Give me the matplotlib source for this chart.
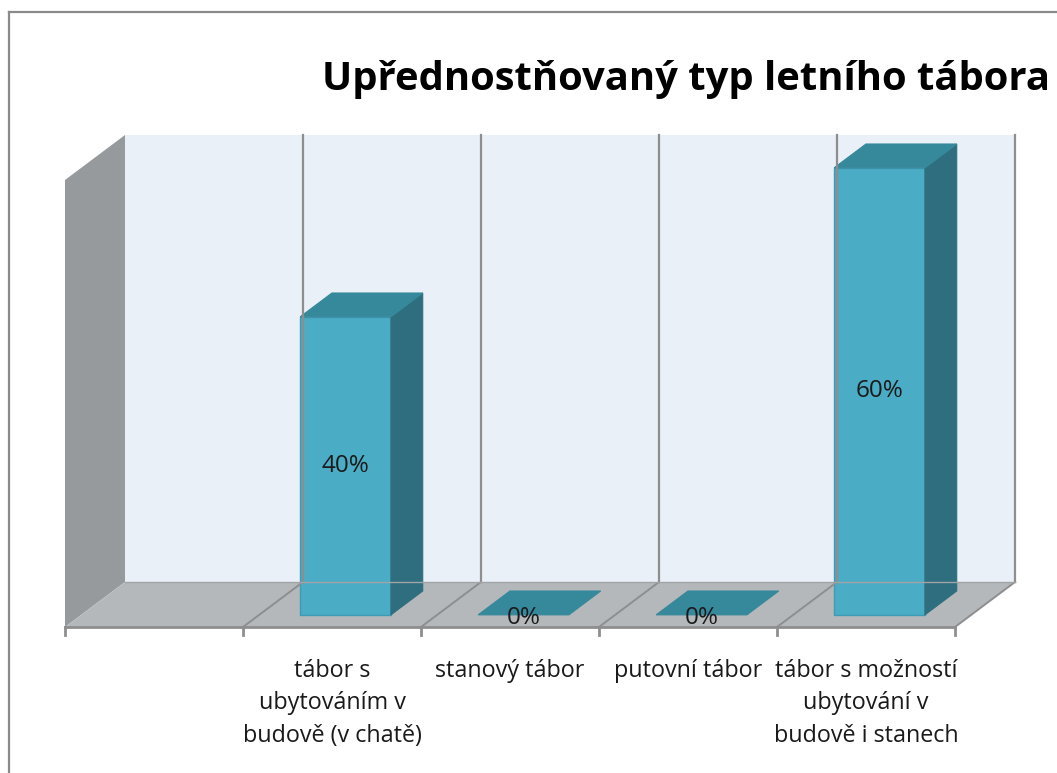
import matplotlib.pyplot as plt
from matplotlib.patches import Polygon

# ---- data ----
categories = ["",
              "tábor s\nubytováním v\nbudově (v chatě)",
              "stanový tábor",
              "putovní tábor",
              "tábor s možností\nubytování v\nbudově i stanech"]
values = [None, 0.40, 0.0, 0.0, 0.60]
value_labels = [None, "40%", "0%", "0%", "60%"]
title = "Upřednostňovaný typ letního tábora"
ymax = 0.6

W, H = 1057, 773
FONT = ["Open Sans", "DejaVu Sans"]

# pixel geometry of the fake 3D box
PX0, PX_CAT = 65, 178      # left front corner, px per category
PY0, PY_UNIT = 627, 745    # front floor edge, px per 1.0 value
DX = 60 / PX_CAT           # depth offset (in category units)
DY = 45 / PY_UNIT          # depth offset (in value units)

fig = plt.figure(figsize=(W / 100, H / 100), dpi=100)
ax = fig.add_axes([0, 0, 1, 1])
ax.set_xlim(-PX0 / PX_CAT, (W - PX0) / PX_CAT)
ax.set_ylim((PY0 - H) / PY_UNIT, PY0 / PY_UNIT)
ax.axis("off")

n = len(categories)
grid_c = "#8e8e8e"

# walls and floor
ax.add_patch(Polygon([(0, 0), (DX, DY), (DX, DY + ymax), (0, ymax)],
                     closed=True, fc="#969a9d", ec="none"))
ax.add_patch(Polygon([(DX, DY), (n + DX, DY), (n + DX, DY + ymax), (DX, DY + ymax)],
                     closed=True, fc="#eaf0f7", ec="none"))
ax.add_patch(Polygon([(0, 0), (n, 0), (n + DX, DY), (DX, DY)],
                     closed=True, fc="#b4b8bb", ec="none"))

for k in range(1, n + 1):
    ax.plot([k + DX, k + DX], [DY, DY + ymax], color=grid_c, lw=1.6)
    ax.plot([k, k + DX], [0, DY], color=grid_c, lw=1.4)
ax.plot([DX, n + DX], [DY, DY], color="#a0a4a7", lw=1.0)
ax.plot([0, n], [0, 0], color=grid_c, lw=2.0)
for k in range(0, n + 1):
    ax.plot([k, k], [0, -8 / PY_UNIT], color=grid_c, lw=2.0)

# bars
w = 0.51
d0, d1 = 0.27, 0.80
dd = d1 - d0
for i, v in enumerate(values):
    if v is None:
        continue
    xl = i + 0.5 - w / 2 + d0 * DX - 0.015
    y0 = d0 * DY
    xr = xl + w
    top = [(xl, y0 + v), (xr, y0 + v), (xr + dd * DX, y0 + v + dd * DY),
           (xl + dd * DX, y0 + v + dd * DY)]
    if v > 0:
        ax.add_patch(Polygon([(xl, y0), (xr, y0), (xr, y0 + v), (xl, y0 + v)],
                             closed=True, fc="#4bacc6", ec="#3f9ab3", lw=1.0))
        ax.add_patch(Polygon([(xr, y0), (xr + dd * DX, y0 + dd * DY),
                              (xr + dd * DX, y0 + v + dd * DY), (xr, y0 + v)],
                             closed=True, fc="#2f6e7e", ec="#2f6e7e", lw=0.8))
    ax.add_patch(Polygon(top, closed=True, fc="#36889b", ec="#36889b", lw=0.8))
    ly = y0 + v / 2 if v > 0 else y0 - 3 / PY_UNIT
    ax.text(xl + w / 2, ly, value_labels[i], ha="center", va="center",
            fontsize=17.5, family=FONT, color="#1a1a1a")

# category labels
for i, lab in enumerate(categories):
    if lab:
        ax.text(i + 0.5, (PY0 - 659) / PY_UNIT, lab, ha="center", va="top",
                fontsize=16.8, family=FONT, color="#1a1a1a", linespacing=1.47)

# title and chart frame
fig.text(322 / W, 1 - 90 / H, title, ha="left", va="baseline",
         fontsize=28.8, fontweight="bold", family=FONT, color="black")
fig.add_artist(plt.Line2D([9 / W, 1], [1 - 12 / H, 1 - 12 / H], color="#8a8a8a", lw=1.6))
fig.add_artist(plt.Line2D([9 / W, 9 / W], [1 - 12 / H, 0], color="#8a8a8a", lw=1.6))

fig.savefig("out.png", dpi=100)
